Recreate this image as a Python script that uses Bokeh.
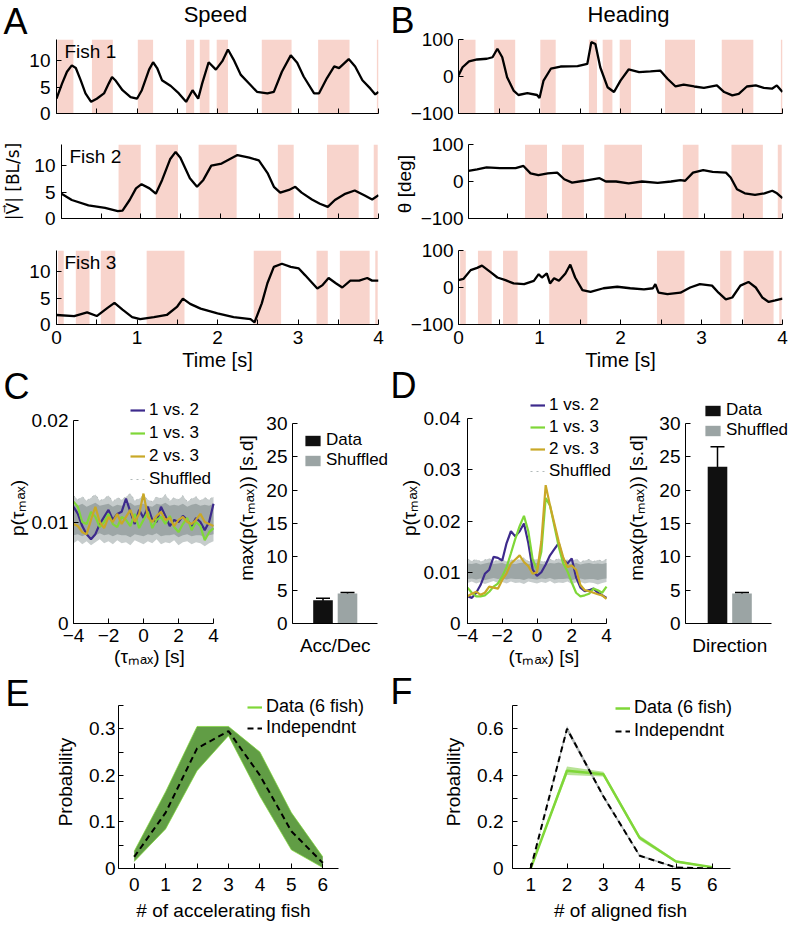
from bokeh.plotting import figure
from bokeh.models import (ColumnDataSource, Range1d, FixedTicker, Label, Legend,
                          LegendItem, Whisker, TeeHead)
from bokeh.layouts import row, column
from bokeh.transform import factor_cmap
from bokeh.embed import file_html
from bokeh.resources import INLINE

FONT = "Liberation Sans"

# ---------------- data ----------------
time_ticks = [0, 1, 2, 3, 4]
time_minor = [0.5, 1.5, 2.5, 3.5]
time_all = [0, 0.5, 1, 1.5, 2, 2.5, 3, 3.5, 4]
speed_ticks = [0, 5, 10]
heading_ticks = [-100, 0, 100]

fish1_on = [0.01, 0.44, 1.01, 1.61, 1.78, 1.99, 2.55, 3.25, 3.98]
fish1_off = [0.21, 0.70, 1.20, 1.71, 1.90, 2.13, 2.92, 3.64, 4.00]
fish2_on = [0.72, 1.19, 1.73, 2.73, 3.35, 3.94]
fish2_off = [1.00, 1.47, 2.21, 2.93, 3.75, 3.99]
fish3_on = [0.02, 0.24, 0.55, 1.12, 2.45, 3.23, 3.52, 3.96]
fish3_off = [0.09, 0.41, 0.73, 1.59, 2.79, 3.37, 3.89, 3.99]

speed1_t = [0, 0.07, 0.13, 0.19, 0.24, 0.30, 0.36, 0.43, 0.50, 0.59, 0.65, 0.69, 0.73, 0.82, 0.92, 1.00,
            1.06, 1.15, 1.20, 1.25, 1.31, 1.42, 1.52, 1.61, 1.69, 1.76, 1.81, 1.89, 1.98, 2.06, 2.13, 2.20,
            2.29, 2.41, 2.49, 2.62, 2.70, 2.80, 2.91, 2.99, 3.07, 3.20, 3.26, 3.36, 3.45, 3.51, 3.63, 3.71,
            3.80, 3.90, 3.96, 4.0]
speed1_v = [2.8, 5.7, 7.9, 9.1, 8.6, 6.3, 3.8, 2.2, 2.8, 3.8, 5.7, 6.9, 6.3, 4.4, 3.1, 2.8,
            4.4, 8.3, 9.7, 8.6, 6.3, 5.2, 3.8, 2.2, 4.4, 2.8, 5.7, 9.7, 8.3, 9.9, 12.1, 10.2,
            7.3, 5.4, 4.1, 3.8, 4.1, 7.9, 11.0, 9.6, 7.0, 3.8, 3.8, 6.7, 8.9, 8.6, 10.3, 8.9,
            6.3, 4.7, 3.6, 4.1]
speed2_t = [0, 0.13, 0.34, 0.55, 0.71, 0.77, 0.86, 0.94, 1.01, 1.11, 1.19, 1.27, 1.37, 1.44, 1.50, 1.62,
            1.71, 1.79, 1.89, 2.02, 2.12, 2.22, 2.37, 2.49, 2.60, 2.68, 2.76, 2.87, 2.95, 3.03, 3.16, 3.26,
            3.36, 3.45, 3.57, 3.70, 3.82, 3.92, 4.0]
speed2_v = [4.7, 3.5, 2.5, 2.0, 1.4, 1.5, 3.5, 5.7, 6.5, 5.7, 4.7, 7.3, 11.2, 12.6, 11.5, 7.6,
            6.0, 7.3, 10.0, 10.4, 11.2, 12.0, 11.5, 11.0, 8.6, 6.0, 4.9, 5.4, 6.0, 4.9, 3.6, 2.8,
            2.2, 3.5, 4.6, 5.3, 4.4, 3.6, 4.4]
speed3_t = [0, 0.22, 0.38, 0.50, 0.63, 0.72, 0.82, 0.94, 1.04, 1.21, 1.37, 1.50, 1.57, 1.66, 1.79, 2.00,
            2.20, 2.41, 2.46, 2.55, 2.62, 2.70, 2.80, 2.91, 3.01, 3.09, 3.18, 3.24, 3.30, 3.38, 3.47, 3.55,
            3.65, 3.76, 3.86, 3.92, 4.0]
speed3_v = [1.8, 1.6, 2.3, 1.6, 3.1, 4.1, 2.8, 1.4, 1.0, 1.4, 1.8, 3.4, 4.9, 3.9, 3.0, 2.1,
            1.4, 1.0, 0.4, 4.0, 7.8, 10.9, 11.5, 10.9, 10.6, 9.3, 7.8, 6.8, 7.4, 8.8, 7.8, 7.0,
            8.3, 8.3, 8.8, 8.3, 8.3]

heading1_t = [0, 0.05, 0.13, 0.23, 0.35, 0.42, 0.48, 0.54, 0.60, 0.68, 0.74, 0.85, 0.97, 1.00, 1.05, 1.14,
              1.26, 1.47, 1.59, 1.64, 1.69, 1.75, 1.84, 1.92, 2.00, 2.10, 2.23, 2.37, 2.49, 2.58, 2.68, 2.78,
              2.91, 3.03, 3.19, 3.28, 3.38, 3.46, 3.56, 3.67, 3.77, 3.87, 3.93, 4.0]
heading1_v = [3, 25, 41, 46, 48, 52, 75, 52, -2, -38, -50, -45, -50, -58, -11, 21,
              27, 28, 34, 93, 88, 25, -29, -42, -11, 19, 12, 14, 16, -6, -27, -22,
              -27, -31, -24, -42, -51, -47, -27, -24, -31, -33, -24, -42]
heading2_t = [0, 0.11, 0.23, 0.40, 0.60, 0.70, 0.79, 0.89, 1.01, 1.13, 1.22, 1.32, 1.47, 1.67, 1.75, 1.88,
              2.04, 2.21, 2.41, 2.58, 2.70, 2.76, 2.86, 2.99, 3.11, 3.28, 3.34, 3.42, 3.52, 3.65, 3.77, 3.87,
              3.93, 4.0]
heading2_v = [29, 33, 38, 36, 36, 42, 22, 17, 22, 24, 6, -3, 2, 9, 0, 0,
              -5, 0, -4, 0, 4, 2, 24, 31, 26, 24, 11, -21, -32, -36, -32, -25,
              -32, -45]
heading3_t = [0, 0.06, 0.15, 0.23, 0.29, 0.40, 0.48, 0.58, 0.68, 0.81, 0.93, 0.99, 1.03, 1.09, 1.13, 1.18,
              1.24, 1.32, 1.38, 1.44, 1.53, 1.63, 1.79, 1.96, 2.12, 2.29, 2.40, 2.43, 2.47, 2.58, 2.74, 2.86,
              2.98, 3.13, 3.21, 3.30, 3.38, 3.48, 3.58, 3.67, 3.75, 3.83, 3.91, 4.0]
heading3_v = [20, 23, 47, 53, 59, 41, 27, 20, 11, 9, 18, 36, 27, 38, 11, 25,
              18, 38, 62, 27, -7, -12, -2, 2, -2, -5, -2, 9, -14, -18, -14, 0,
              9, 5, -14, -32, -27, 5, 15, 0, -27, -39, -35, -30]

tau = [-4.0, -3.75, -3.5, -3.25, -3.0, -2.75, -2.5, -2.25, -2.0, -1.75, -1.5, -1.25, -1.0, -0.75, -0.5, -0.25,
       0.0, 0.25, 0.5, 0.75, 1.0, 1.25, 1.5, 1.75, 2.0, 2.25, 2.5, 2.75, 3.0, 3.25, 3.5, 3.75, 4.0]
tau_ticks = [-4, -2, 0, 2, 4]

acc_12 = [0.0115, 0.0108, 0.0096, 0.0088, 0.0083, 0.0088, 0.0098, 0.0105, 0.0112, 0.0102, 0.0108, 0.0110,
          0.0123, 0.0110, 0.0098, 0.0112, 0.0104, 0.0115, 0.0102, 0.0100, 0.0115, 0.0106, 0.0096, 0.0102,
          0.0100, 0.0106, 0.0102, 0.0096, 0.0104, 0.0100, 0.0092, 0.0100, 0.0118]
acc_13 = [0.0120, 0.0115, 0.0100, 0.0098, 0.0110, 0.0105, 0.0095, 0.0100, 0.0108, 0.0098, 0.0095, 0.0105,
          0.0102, 0.0096, 0.0108, 0.0094, 0.0102, 0.0110, 0.0094, 0.0102, 0.0105, 0.0098, 0.0106, 0.0095,
          0.0090, 0.0098, 0.0104, 0.0092, 0.0100, 0.0096, 0.0082, 0.0090, 0.0094]
acc_23 = [0.0098, 0.0096, 0.0090, 0.0088, 0.0102, 0.0115, 0.0100, 0.0094, 0.0105, 0.0100, 0.0108, 0.0098,
          0.0105, 0.0112, 0.0100, 0.0108, 0.0128, 0.0105, 0.0100, 0.0106, 0.0110, 0.0102, 0.0104, 0.0096,
          0.0102, 0.0105, 0.0100, 0.0098, 0.0102, 0.0108, 0.0100, 0.0098, 0.0096]

dir_12 = [0.0053, 0.0050, 0.0060, 0.0075, 0.0097, 0.0105, 0.0130, 0.0128, 0.0123, 0.0157, 0.0180, 0.0170,
          0.0180, 0.0195, 0.0157, 0.0105, 0.0093, 0.0100, 0.0115, 0.0133, 0.0145, 0.0157, 0.0125, 0.0117,
          0.0127, 0.0090, 0.0070, 0.0063, 0.0065, 0.0068, 0.0060, 0.0055, 0.0050]
dir_13 = [0.0070, 0.0060, 0.0053, 0.0053, 0.0055, 0.0062, 0.0072, 0.0078, 0.0092, 0.0110, 0.0137, 0.0165,
          0.0190, 0.0210, 0.0180, 0.0125, 0.0105, 0.0140, 0.0245, 0.0230, 0.0190, 0.0150, 0.0118, 0.0102,
          0.0080, 0.0060, 0.0053, 0.0055, 0.0058, 0.0068, 0.0065, 0.0060, 0.0072]
dir_23 = [0.0053, 0.0058, 0.0062, 0.0056, 0.0060, 0.0072, 0.0070, 0.0068, 0.0085, 0.0098, 0.0117, 0.0125,
          0.0133, 0.0120, 0.0112, 0.0097, 0.0100, 0.0160, 0.0270, 0.0230, 0.0195, 0.0160, 0.0130, 0.0110,
          0.0113, 0.0105, 0.0075, 0.0065, 0.0063, 0.0060, 0.0057, 0.0055, 0.0048]

shuf_hi = [0.0126, 0.0122, 0.0125, 0.0121, 0.0124, 0.0127, 0.0121, 0.0123, 0.0126, 0.0120, 0.0124, 0.0122,
           0.0125, 0.0128, 0.0121, 0.0123, 0.0126, 0.0122, 0.0120, 0.0125, 0.0123, 0.0127, 0.0121, 0.0124,
           0.0122, 0.0126, 0.0120, 0.0123, 0.0125, 0.0121, 0.0124, 0.0122, 0.0125]
shuf_lo = [0.0079, 0.0082, 0.0078, 0.0081, 0.0077, 0.0080, 0.0083, 0.0079, 0.0081, 0.0078, 0.0082, 0.0079,
           0.0080, 0.0077, 0.0082, 0.0080, 0.0078, 0.0081, 0.0079, 0.0083, 0.0078, 0.0080, 0.0079, 0.0082,
           0.0077, 0.0080, 0.0081, 0.0078, 0.0080, 0.0079, 0.0076, 0.0079, 0.0081]
shuf_core_hi = [0.0117, 0.0116, 0.0118, 0.0115, 0.0117, 0.0119, 0.0116, 0.0117, 0.0118, 0.0115, 0.0117, 0.0116,
                0.0118, 0.0119, 0.0116, 0.0117, 0.0118, 0.0116, 0.0115, 0.0118, 0.0117, 0.0119, 0.0116, 0.0117,
                0.0116, 0.0118, 0.0115, 0.0117, 0.0118, 0.0116, 0.0117, 0.0116, 0.0118]
shuf_core_lo = [0.0087, 0.0088, 0.0086, 0.0088, 0.0085, 0.0087, 0.0089, 0.0087, 0.0088, 0.0086, 0.0088, 0.0087,
                0.0087, 0.0085, 0.0088, 0.0087, 0.0086, 0.0088, 0.0087, 0.0089, 0.0086, 0.0087, 0.0087, 0.0088,
                0.0085, 0.0087, 0.0088, 0.0086, 0.0087, 0.0087, 0.0085, 0.0087, 0.0088]

bar_groups = ["Data", "Shuffled"]
acc_bar_mean = [3.5, 4.5]
acc_bar_err = [0.3, 0.15]
dir_bar_mean = [23.5, 4.5]
dir_bar_err = [3.0, 0.15]
bar_ticks = [0, 5, 10, 15, 20, 25, 30]

n_acc = [0, 1, 2, 3, 4, 5, 6]
acc_data = [0.026, 0.125, 0.258, 0.295, 0.200, 0.080, 0.013]
acc_data_lo = [0.015, 0.085, 0.210, 0.285, 0.155, 0.040, 0.002]
acc_data_hi = [0.037, 0.165, 0.305, 0.305, 0.250, 0.120, 0.025]
acc_indep = [0.025, 0.120, 0.258, 0.295, 0.200, 0.080, 0.012]
e_yticks = [0, 0.1, 0.2, 0.3]
e_yminor = [0.05, 0.15, 0.25, 0.35]

n_align = [1, 2, 3, 4, 5, 6]
align_data = [0.0, 0.420, 0.405, 0.132, 0.030, 0.005]
align_data_err = [0.002, 0.018, 0.010, 0.010, 0.005, 0.002]
align_indep = [0.0, 0.600, 0.310, 0.055, 0.004, 0.0]
align_indep_err = [0.002, 0.012, 0.008, 0.005, 0.002, 0.001]
f_yticks = [0, 0.2, 0.4, 0.6]
f_yminor = [0.1, 0.3, 0.5, 0.7]

# ---------------- styles ----------------
PINK = "#f8d4cc"
PURPLE = "#3d2a8c"
GREEN = "#7fd738"
GOLD = "#c9a827"
SHUF_DARK = "#9da6a6"
SHUF_LIGHT = "#c6cccc"
E_BAND = "#619d45"
F_BAND = "#a6dc7c"
BAR_COLORS = ["#101010", "#9ba4a4"]
PAGE_W, PAGE_H = 789, 925


def mk(w, h, l, r, t, b, xr, yr):
    p = figure(width=w, height=h, x_range=xr, y_range=yr, output_backend="svg",
               toolbar_location=None, tools="", min_border_left=l, min_border_right=r,
               min_border_top=t, min_border_bottom=b)
    p.outline_line_color = None
    p.xgrid.visible = False
    p.ygrid.visible = False
    p.background_fill_color = "white"
    p.border_fill_color = "white"
    for ax in p.axis:
        ax.axis_line_color = "black"
        ax.axis_line_width = 1
        ax.major_tick_in = 5
        ax.major_tick_out = 0
        ax.minor_tick_in = 5
        ax.minor_tick_out = 0
        ax.major_tick_line_color = "black"
        ax.minor_tick_line_color = "black"
        ax.major_label_text_font = FONT
        ax.major_label_text_font_size = "19px"
        ax.major_label_text_color = "black"
        ax.axis_label_text_font = FONT
        ax.axis_label_text_font_size = "19px"
        ax.axis_label_text_font_style = "normal"
        ax.axis_label_text_color = "black"
    return p


def lab(p, x, y, text, size, baseline="top"):
    p.add_layout(Label(x=x, y=y, x_units="screen", y_units="screen", text=text,
                       text_font=FONT, text_font_size=size, text_align="left",
                       text_baseline=baseline, text_color="black"))


def style_legend(leg, size="17px", spacing=3, gw=15, gh=14, lh=20):
    leg.label_text_font = FONT
    leg.label_text_font_size = size
    leg.label_text_color = "black"
    leg.background_fill_alpha = 0
    leg.border_line_color = None
    leg.padding = 0
    leg.margin = 0
    leg.spacing = spacing
    leg.glyph_width = gw
    leg.glyph_height = gh
    leg.label_standoff = 4
    leg.label_height = lh


items = []
W_L, W_R = 390, 399

# ---------------- A / B ----------------
FRAME_H = 74
row_specs = [(128, 39, 15), (106, 16, 16), (142, 16, 52)]
fish_on = [fish1_on, fish2_on, fish3_on]
fish_off = [fish1_off, fish2_off, fish3_off]
speeds = [(speed1_t, speed1_v), (speed2_t, speed2_v), (speed3_t, speed3_v)]
headings = [(heading1_t, heading1_v), (heading2_t, heading2_v), (heading3_t, heading3_v)]

for i in range(3):
    h, top, bottom = row_specs[i]
    last = i == 2
    pa = mk(W_L, h, 56, 12, top, bottom, Range1d(0, 4), Range1d(0, 14))
    pa.quad(left=fish_on[i], right=fish_off[i], bottom=0, top=14, fill_color=PINK, line_color=None)
    pa.line(speeds[i][0], speeds[i][1], line_color="black", line_width=2.3)
    pa.yaxis.ticker = FixedTicker(ticks=speed_ticks)
    pa.yaxis.major_label_standoff = 6
    pb = mk(W_R, h, 68, 7, top, bottom, Range1d(0, 4), Range1d(-100, 100))
    pb.quad(left=fish_on[i], right=fish_off[i], bottom=-100, top=100, fill_color=PINK, line_color=None)
    pb.line(headings[i][0], headings[i][1], line_color="black", line_width=2.3)
    pb.yaxis.ticker = FixedTicker(ticks=heading_ticks)
    pb.yaxis.major_label_standoff = 5
    for p in (pa, pb):
        if last:
            p.xaxis.ticker = FixedTicker(ticks=time_ticks, minor_ticks=time_minor)
            p.xaxis.axis_label = "Time [s]"
            p.xaxis.axis_label_text_font_size = "20px"
            p.xaxis.major_label_standoff = 6
            p.xaxis.axis_label_standoff = 2
        else:
            p.xaxis.ticker = FixedTicker(ticks=[], minor_ticks=time_all)
    if i == 1:
        pa.yaxis.axis_label = "|V\u20d7| [BL/s]"
        pa.yaxis.axis_label_text_font = "DejaVu Sans"
        pa.yaxis.axis_label_text_font_size = "17px"
        pa.yaxis.axis_label_standoff = 8
        pb.yaxis.axis_label = "\u03b8  [deg]"
        pb.yaxis.axis_label_standoff = 3
    lab(pa, 8, FRAME_H - 1, "Fish %d" % (i + 1), "19px")
    items.append(row(pa, pb))

# ---------------- C / D ----------------
ROW4_H = 297
FR4 = 231  # frame height (top border 16)


def corr_fig(w, l, ymax, data_px, px_per_unit, yticks, s12, s13, s23, legloc, spacing):
    x_end = 4 + (w - l - 8 * px_per_unit) / px_per_unit
    p = mk(w, ROW4_H, l, 0, 16, 50, Range1d(-4, x_end), Range1d(0, ymax * FR4 / data_px))
    p.varea(x=tau, y1=shuf_lo, y2=shuf_hi, fill_color=SHUF_LIGHT)
    p.varea(x=tau, y1=shuf_core_lo, y2=shuf_core_hi, fill_color=SHUF_DARK)
    rs = p.line(tau, shuf_hi, line_color="#b3baba", line_width=1, line_dash="dotted")
    r1 = p.line(tau, s12, line_color=PURPLE, line_width=2.2)
    r2 = p.line(tau, s13, line_color=GREEN, line_width=2.2)
    r3 = p.line(tau, s23, line_color=GOLD, line_width=2.2)
    p.xaxis.ticker = FixedTicker(ticks=tau_ticks)
    p.xaxis.bounds = (-4, 4)
    p.yaxis.ticker = FixedTicker(ticks=yticks)
    p.yaxis.bounds = (0, ymax)
    p.yaxis.major_label_overrides = {0: "0"}
    p.xaxis.axis_label = "(\u03c4\u2098\u2090\u2093) [s]"
    p.yaxis.axis_label = "p(\u03c4\u2098\u2090\u2093)"
    p.xaxis.major_label_standoff = 5
    p.xaxis.axis_label_standoff = 1
    leg = Legend(items=[LegendItem(label="1 vs. 2", renderers=[r1]),
                        LegendItem(label="1 vs. 3", renderers=[r2]),
                        LegendItem(label="2 vs. 3", renderers=[r3]),
                        LegendItem(label="Shuffled", renderers=[rs])], location=legloc)
    style_legend(leg, spacing=spacing)
    p.add_layout(leg)
    return p


bar_x = list(range(len(bar_groups)))
bar_mid = (bar_x[0] + bar_x[-1]) / 2


def bar_fig(w, l, means, errs, cat, x_start, x_end, axis_end, legloc, ylab_standoff):
    src = ColumnDataSource(dict(x=bar_x, group=bar_groups, mean=means,
                                upper=[m + e for m, e in zip(means, errs)],
                                lower=[m - e for m, e in zip(means, errs)]))
    p = mk(w, ROW4_H, l, 0, 16, 50, Range1d(x_start, x_end), Range1d(0, 30 * FR4 / 200))
    p.vbar(x="x", top="mean", width=0.8, source=src, line_color=None,
           fill_color=factor_cmap("group", BAR_COLORS, bar_groups), legend_field="group")
    p.add_layout(Whisker(source=src, base="x", upper="upper", lower="lower", line_color="black",
                         line_width=1.5,
                         upper_head=TeeHead(size=14, line_color="black", line_width=1.5),
                         lower_head=TeeHead(size=14, line_color="black", line_width=1.5)))
    p.yaxis.ticker = FixedTicker(ticks=bar_ticks)
    p.yaxis.bounds = (0, 30)
    p.yaxis.axis_label = "max(p(\u03c4\u2098\u2090\u2093)) [s.d]"
    p.yaxis.axis_label_standoff = ylab_standoff
    p.yaxis.major_label_standoff = 5
    p.xaxis.bounds = (x_start, axis_end)
    p.xaxis.ticker = FixedTicker(ticks=[bar_mid])
    p.xaxis.major_label_overrides = {bar_mid: cat}
    p.xaxis.major_tick_in = 0
    p.xaxis.major_label_standoff = 11
    leg = p.legend[0]
    leg.location = legloc
    style_legend(leg, size="17px", spacing=0, gw=19, gh=13)
    return p


pC1 = corr_fig(225, 73, 0.02, 203, 17.5, [0, 0.01, 0.02], acc_12, acc_13, acc_23, (57, 134), 3)
pC1.yaxis.major_label_standoff = 5
pC1.yaxis.axis_label_standoff = 1
pC2 = bar_fig(165, 67, acc_bar_mean, acc_bar_err, "Acc/Dec", -1.245, 2.755, 2.224, (11, 153), 6)
pD1 = corr_fig(230, 77, 0.04, 205, 17.375, [0, 0.01, 0.02, 0.03, 0.04], dir_12, dir_13, dir_23, (63, 142), 2)
pD1.yaxis.major_label_standoff = 7
pD1.yaxis.axis_label_standoff = 1
pD2 = bar_fig(169, 65, dir_bar_mean, dir_bar_err, "Direction", -1.306, 2.939, 2.204, (18, 183), 9)
items.append(row(pC1, pC2, pD1, pD2))

# ---------------- E / F ----------------
ROW5_H = 252
FR5 = 173
DATA5 = 163

e_ppu = 220 / 7.0
pE = mk(W_L, ROW5_H, 118, 0, 22, 57, Range1d(-0.5, 6.5 + 52 / e_ppu), Range1d(0, 0.35 * FR5 / DATA5))
rEd = pE.line(n_acc, acc_data, line_color=GREEN, line_width=2.2)
pE.varea(x=n_acc, y1=acc_data_lo, y2=acc_data_hi, fill_color=E_BAND)
pE.line(n_acc, acc_data_lo, line_color=GREEN, line_width=1, line_alpha=0.7)
pE.line(n_acc, acc_data_hi, line_color=GREEN, line_width=1, line_alpha=0.7)
rEi = pE.line(n_acc, acc_indep, line_color="black", line_width=2, line_dash="6 4")
pE.xaxis.ticker = FixedTicker(ticks=n_acc)
pE.xaxis.bounds = (-0.5, 6.5)
pE.yaxis.ticker = FixedTicker(ticks=e_yticks, minor_ticks=e_yminor)
pE.yaxis.bounds = (0, 0.35)
pE.yaxis.major_label_overrides = {0: "0"}
pE.yaxis.axis_label = "Probability"
pE.xaxis.major_label_standoff = 9
pE.yaxis.major_label_standoff = 3
pE.yaxis.axis_label_standoff = 10
legE = Legend(items=[LegendItem(label="Data (6 fish)", renderers=[rEd]),
                     LegendItem(label="Independnt", renderers=[rEi])], location=(129, 130))
style_legend(legE, size="18px", spacing=0)
pE.add_layout(legE)

f_ppu = 218 / 6.0
pF = mk(W_R, ROW5_H, 122, 29, 22, 57, Range1d(0.5, 6.5 + 30 / f_ppu), Range1d(0, 0.7 * FR5 / DATA5))
pF.varea(x=n_align, y1=[d - e for d, e in zip(align_data, align_data_err)],
         y2=[d + e for d, e in zip(align_data, align_data_err)], fill_color=F_BAND, fill_alpha=0.8)
rFd = pF.line(n_align, align_data, line_color=GREEN, line_width=2.5)
pF.varea(x=n_align, y1=[d - e for d, e in zip(align_indep, align_indep_err)],
         y2=[d + e for d, e in zip(align_indep, align_indep_err)], fill_color="#a9afaf", fill_alpha=0.9)
rFi = pF.line(n_align, align_indep, line_color="black", line_width=2, line_dash="6 4")
pF.xaxis.ticker = FixedTicker(ticks=n_align)
pF.xaxis.bounds = (0.5, 6.5)
pF.yaxis.ticker = FixedTicker(ticks=f_yticks, minor_ticks=f_yminor)
pF.yaxis.bounds = (0, 0.7)
pF.yaxis.major_label_overrides = {0: "0"}
pF.yaxis.axis_label = "Probability"
pF.xaxis.major_label_standoff = 9
pF.yaxis.major_label_standoff = 9
pF.yaxis.axis_label_standoff = 10
legF = Legend(items=[LegendItem(label="Data (6 fish)", renderers=[rFd]),
                     LegendItem(label="Independnt", renderers=[rFi])], location=(103, 127))
style_legend(legF, size="18px", spacing=2)
pF.add_layout(legF)

items.append(row(pE, pF))

# ---------------- transparent overlay for panel letters, titles and E/F x labels ----------------
ov = figure(width=PAGE_W, height=PAGE_H, x_range=Range1d(0, PAGE_W), y_range=Range1d(PAGE_H, 0),
            output_backend="svg", toolbar_location=None, tools="", min_border=0,
            x_axis_type=None, y_axis_type=None,
            styles={"position": "absolute", "left": "0px", "top": "0px",
                    "z-index": "5", "pointer-events": "none"})
ov.outline_line_color = None
ov.background_fill_color = None
ov.border_fill_color = None


def otext(x, y, text, size, align="left"):
    # y: vertical centre of the capitals in page pixels
    ov.add_layout(Label(x=x, y=y, text=text, text_font=FONT, text_font_size=size,
                        text_align=align, text_baseline="middle", text_color="black"))


otext(3, 21, "A", "36px")
otext(215, 14, "Speed", "22px", align="center")
otext(390, 20, "B", "36px")
otext(628, 14, "Heading", "22px", align="center")
otext(3, 386, "C", "36px")
otext(390, 385, "D", "36px")
otext(5, 693, "E", "36px")
otext(390, 691, "F", "36px")
otext(223, 910, "# of accelerating fish", "19px", align="center")
otext(620, 910, "# of aligned fish", "19px", align="center")

items.append(ov)

layout = column(*items)
open("out.html", "w").write(file_html(layout, INLINE))
